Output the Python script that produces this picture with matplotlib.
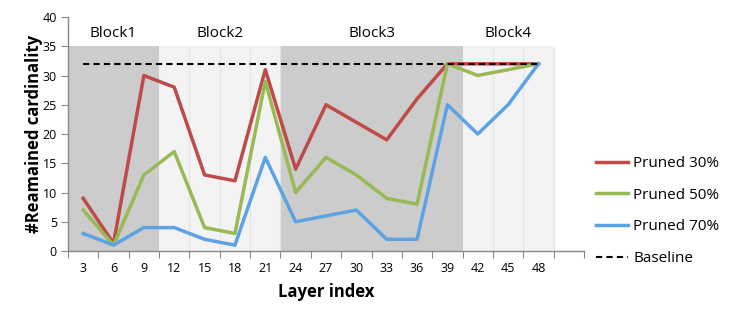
import matplotlib
matplotlib.use("Agg")
import matplotlib.pyplot as plt
import numpy as np

layers = [3, 6, 9, 12, 15, 18, 21, 24, 27, 30, 33, 36, 39, 42, 45, 48]
pruned30 = [9, 1.3, 30, 28, 13, 12, 31, 14, 25, 22, 19, 26, 32, 32, 32, 32]
pruned50 = [7, 1, 13, 17, 4, 3, 29, 10, 16, 13, 9, 8, 32, 30, 31, 32]
pruned70 = [3, 1, 4, 4, 2, 1, 16, 5, 6, 7, 2, 2, 25, 20, 25, 32]
baseline = [32] * len(layers)
block_names = ["Block1", "Block2", "Block3", "Block4"]
block_sizes = [3, 4, 6, 3]
block_colors = ["#CCCCCC", "#F3F3F3", "#CCCCCC", "#F3F3F3"]

plt.rcParams['font.family'] = ['Open Sans', 'DejaVu Sans']

fig = plt.figure(figsize=(7.47, 3.18), dpi=100)
ax = fig.add_axes([68/747, 1-251/318, (584-68)/747, (251-17)/318])

x = np.arange(len(layers)) + 0.5
n_slots = len(layers) + 1

# block shading
start = 0
for name, size, col in zip(block_names, block_sizes, block_colors):
    ax.axvspan(start, start + size, ymin=0, ymax=35/40, color=col, lw=0, zorder=0)
    if col != "#CCCCCC":
        for b in range(start + 1, start + size + 1):
            ax.vlines(b, 0, 35, color="#E4E4E4", lw=0.8, zorder=0.5)
    ax.text(start + size/2, 37.1, name, ha='center', va='center', fontsize=11)
    start += size

ax.plot(x, pruned30, color="#BE4B48", lw=2.5, label="Pruned 30%", zorder=3)
ax.plot(x, pruned50, color="#98B954", lw=2.5, label="Pruned 50%", zorder=3)
ax.plot(x, pruned70, color="#5DA2E4", lw=2.5, label="Pruned 70%", zorder=3)
ax.plot(x, baseline, color="black", lw=1.5, ls=(0, (3, 2)), label="Baseline", zorder=4)

ax.set_xlim(0, n_slots)
ax.set_ylim(0, 40)
ax.set_yticks(np.arange(0, 41, 5))
ax.set_xticks(np.arange(0, n_slots + 1))
ax.set_xticklabels([])
ax.set_xticks(x, minor=True)
ax.set_xticklabels([str(l) for l in layers], minor=True, fontsize=9)
ax.tick_params(axis='x', which='major', length=5, color="#888888", direction='out')
ax.tick_params(axis='x', which='minor', length=0, pad=8)
ax.tick_params(axis='y', length=5, color="#888888", direction='out', labelsize=9, pad=3)

for s in ['top', 'right']:
    ax.spines[s].set_visible(False)
for s in ['left', 'bottom']:
    ax.spines[s].set_color("#888888")
    ax.spines[s].set_linewidth(1)

ax.set_xlabel("Layer index", fontsize=12, fontweight='bold', labelpad=6)
ax.set_ylabel("#Reamained cardinality", fontsize=12, fontweight='bold', labelpad=0)
ax.patch.set_visible(False)

leg = fig.legend(loc='upper left', bbox_to_anchor=(596/747, 1-156/318), frameon=False,
                 fontsize=11, handlelength=2.1, handletextpad=0.33, labelspacing=1.09,
                 borderpad=0, borderaxespad=0)

fig.savefig("out.png", dpi=100)
